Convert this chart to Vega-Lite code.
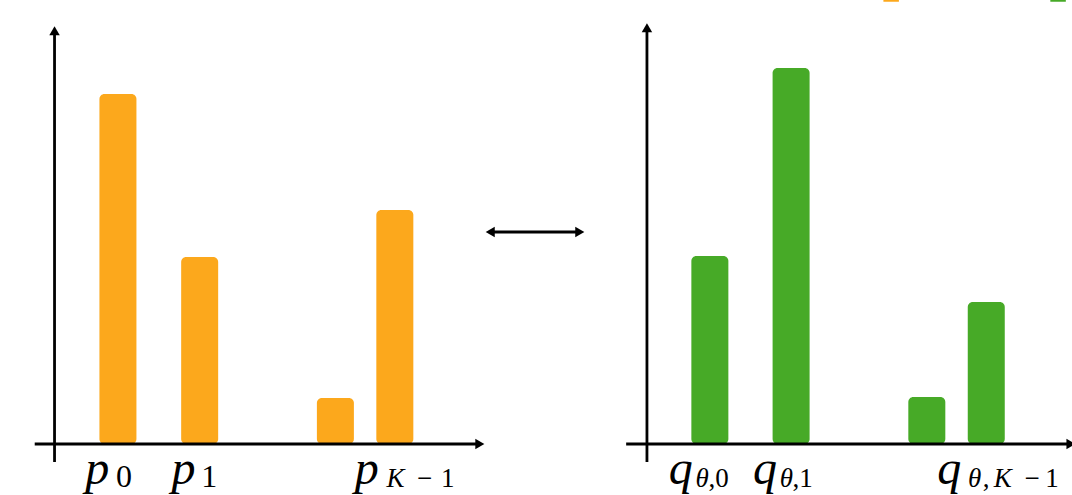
{
  "$schema": "https://vega.github.io/schema/vega-lite/v6.json",
  "width": 1072,
  "height": 495,
  "autosize": {"type": "none"},
  "padding": 0,
  "config": {"view": {"stroke": null}, "font": "Liberation Serif", "text": {"font": "Liberation Serif"}},
  "datasets": {
    "bars": [
      {"panel": "p", "pos": 114, "value": 350},
      {"panel": "p", "pos": 196.5, "value": 187},
      {"panel": "p", "pos": 333.5, "value": 46},
      {"panel": "p", "pos": 393.5, "value": 234},
      {"panel": "q", "pos": 711.5, "value": 188},
      {"panel": "q", "pos": 793.5, "value": 376},
      {"panel": "q", "pos": 930.5, "value": 47},
      {"panel": "q", "pos": 990.5, "value": 142}
    ],
    "lines": [
      {"x": 50, "x2": 50, "y": -18, "y2": 411},
      {"x": 30, "x2": 480, "y": 0, "y2": 0},
      {"x": 648, "x2": 648, "y": -18, "y2": 414},
      {"x": 627, "x2": 1076, "y": 0, "y2": 0},
      {"x": 489, "x2": 581, "y": 212, "y2": 212}
    ],
    "heads": [
      {"x": 50, "y": 413.3, "dir": "up"},
      {"x": 479.3, "y": 0, "dir": "right"},
      {"x": 648, "y": 416.3, "dir": "up"},
      {"x": 1076, "y": 0, "dir": "right"},
      {"x": 489.8, "y": 212, "dir": "left"},
      {"x": 580.2, "y": 212, "dir": "right"}
    ],
    "legendBits": [
      {"panel": "p", "x": 894.5},
      {"panel": "q", "x": 1063}
    ],
    "mains": [
      {"x": 81, "t": "p"},
      {"x": 168, "t": "p"},
      {"x": 353, "t": "p"},
      {"x": 670, "t": "q"},
      {"x": 755, "t": "q"},
      {"x": 941, "t": "q"}
    ],
    "subsItalic": [
      {"x": 385, "t": "K", "kind": "compound"},
      {"x": 697, "t": "θ", "kind": "compound"},
      {"x": 782, "t": "θ", "kind": "compound"},
      {"x": 972, "t": "θ", "kind": "compound"},
      {"x": 998, "t": "K", "kind": "compound"}
    ],
    "subsUpright": [
      {"x": 112, "t": "0", "kind": "simple"},
      {"x": 198, "t": "1", "kind": "simple"},
      {"x": 416, "t": "−", "kind": "compound"},
      {"x": 440, "t": "1", "kind": "compound"},
      {"x": 710, "t": ",0", "kind": "compound"},
      {"x": 795, "t": ",1", "kind": "compound"},
      {"x": 987, "t": ",", "kind": "compound"},
      {"x": 1029, "t": "−", "kind": "compound"},
      {"x": 1050, "t": "1", "kind": "compound"}
    ]
  },
  "layer": [
    {
      "data": {"name": "bars"},
      "mark": {"type": "bar", "size": 37, "cornerRadius": 5, "orient": "vertical"},
      "encoding": {
        "x": {"field": "pos", "type": "quantitative", "scale": {"domain": [0, 1072], "nice": false, "zero": false}, "axis": null},
        "y": {"field": "value", "type": "quantitative", "scale": {"domain": [-51, 444], "nice": false, "zero": false}, "axis": null},
        "y2": {"datum": 0},
        "color": {"field": "panel", "type": "nominal", "scale": {"domain": ["p", "q"], "range": ["#FCA81C", "#47AA27"]}, "legend": null}
      }
    },
    {
      "data": {"name": "legendBits"},
      "mark": {"type": "point", "shape": "square", "filled": true, "size": 240, "opacity": 1},
      "encoding": {
        "x": {"field": "x", "type": "quantitative"},
        "y": {"datum": 450},
        "color": {"field": "panel", "type": "nominal", "legend": null}
      }
    },
    {
      "data": {"name": "lines"},
      "mark": {"type": "rule", "color": "black", "strokeWidth": 2.8},
      "encoding": {
        "x": {"field": "x", "type": "quantitative"},
        "x2": {"field": "x2"},
        "y": {"field": "y", "type": "quantitative"},
        "y2": {"field": "y2"}
      }
    },
    {
      "data": {"name": "heads"},
      "mark": {"type": "point", "filled": true, "color": "black", "size": 110, "opacity": 1},
      "encoding": {
        "x": {"field": "x", "type": "quantitative"},
        "y": {"field": "y", "type": "quantitative"},
        "shape": {"field": "dir", "type": "nominal", "scale": {"domain": ["up", "right", "left"], "range": ["triangle-up", "triangle-right", "triangle-left"]}, "legend": null}
      }
    },
    {
      "data": {"name": "mains"},
      "mark": {"type": "text", "font": "Liberation Serif", "fontStyle": "italic", "fontSize": 48, "align": "left", "baseline": "alphabetic", "color": "black"},
      "encoding": {
        "x": {"field": "x", "type": "quantitative"},
        "y": {"datum": -40},
        "text": {"field": "t"}
      }
    },
    {
      "data": {"name": "subsItalic"},
      "mark": {"type": "text", "font": "Liberation Serif", "fontStyle": "italic", "align": "left", "baseline": "alphabetic", "color": "black"},
      "encoding": {
        "x": {"field": "x", "type": "quantitative"},
        "y": {"datum": -43},
        "text": {"field": "t"},
        "size": {"field": "kind", "type": "nominal", "scale": {"domain": ["simple", "compound"], "range": [32, 27]}, "legend": null}
      }
    },
    {
      "data": {"name": "subsUpright"},
      "mark": {"type": "text", "font": "Liberation Serif", "align": "left", "baseline": "alphabetic", "color": "black"},
      "encoding": {
        "x": {"field": "x", "type": "quantitative"},
        "y": {"datum": -43},
        "text": {"field": "t"},
        "size": {"field": "kind", "type": "nominal", "scale": {"domain": ["simple", "compound"], "range": [32, 27]}, "legend": null}
      }
    }
  ]
}
